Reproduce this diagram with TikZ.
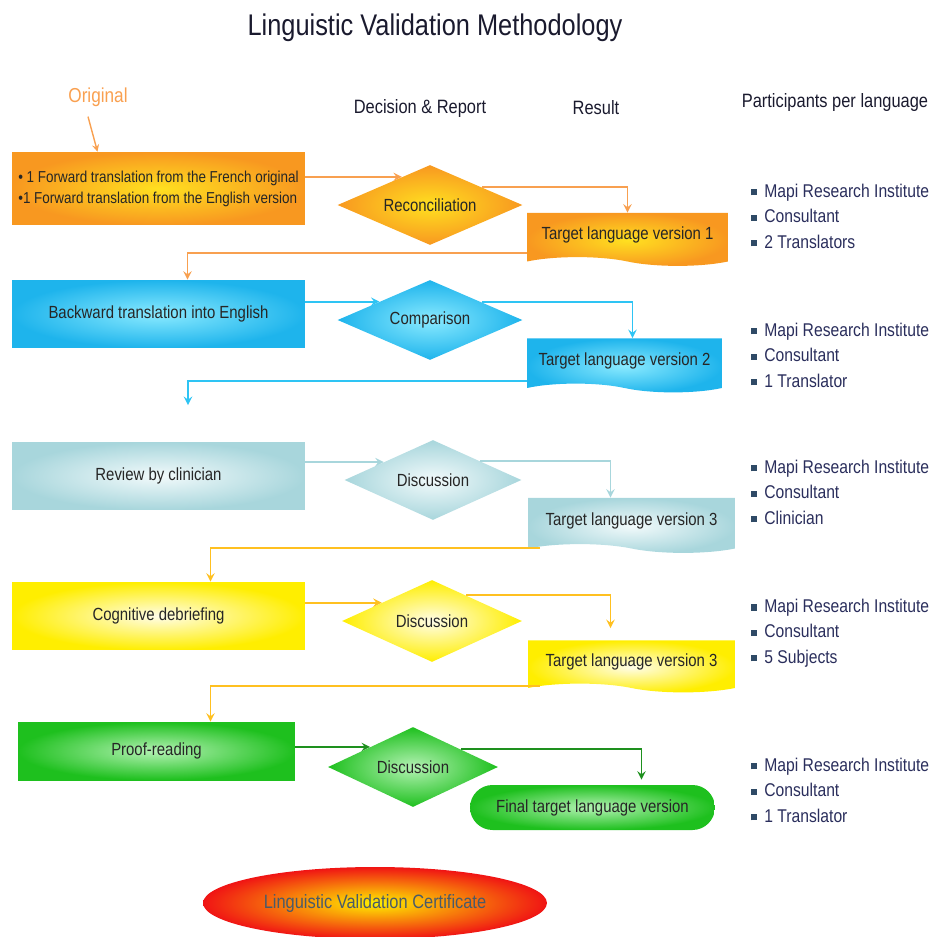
\documentclass[tikz,border=0pt]{standalone}
\usepackage{fontspec}
\setmainfont{Liberation Sans}[FakeStretch=0.85]
\usetikzlibrary{shapes.geometric,shapes.symbols,shapes.misc,calc}

\definecolor{titlec}{HTML}{1A1A2E}
\definecolor{origc}{HTML}{F9A050}
\definecolor{whoc}{HTML}{2A2E5C}
\definecolor{bulc}{HTML}{2F4A66}
\definecolor{or1}{HTML}{F89820}
\definecolor{or2}{HTML}{FFE020}
\definecolor{orl}{HTML}{F8A050}
\definecolor{cy1}{HTML}{1EB4EC}
\definecolor{cy2}{HTML}{8AEAFF}
\definecolor{cyl}{HTML}{2EC4F4}
\definecolor{te1}{HTML}{A8D6DC}
\definecolor{te2}{HTML}{F2FAFB}
\definecolor{tel}{HTML}{A8D6DC}
\definecolor{ye1}{HTML}{FFEE00}
\definecolor{ye2}{HTML}{FFFDE8}
\definecolor{yel}{HTML}{FFC020}
\definecolor{gr1}{HTML}{1EC01E}
\definecolor{gr2}{HTML}{B4F2B4}
\definecolor{grl}{HTML}{1E901E}
\definecolor{re1}{HTML}{F01414}
\definecolor{re2}{HTML}{FFF000}
\definecolor{certc}{HTML}{4A5A6A}

\newcommand{\sqb}{\textcolor{bulc}{\rule[1pt]{3.5pt}{3.5pt}}\hspace{4pt}}

\begin{document}
\begin{tikzpicture}[>=stealth,x=0.02cm,y=-0.02cm,
    stepbox/.style={rectangle,inner sep=0pt,minimum width=5.86cm,minimum height=1.36cm,
      text=black!85,font=\fontsize{10}{12}\selectfont},
    decide/.style={diamond,shape aspect=2.3,inner sep=0pt,minimum width=3.7cm,minimum height=1.6cm,
      text=black!85,font=\fontsize{10}{12}\selectfont},
    result/.style={tape,tape bend top=none,tape bend bottom=out and in,tape bend height=5pt,
      inner sep=0pt,minimum width=4.1cm,minimum height=1.08cm,
      text=black!85,font=\fontsize{10}{12}\selectfont},
    who/.style={anchor=west,align=left,text=whoc,font=\fontsize{10.5}{14.5}\selectfont},
    colhead/.style={text=titlec,font=\fontsize{11}{13}\selectfont},
    orng/.style={shading=radial,outer color=or1,inner color=or2},
    cyan/.style={shading=radial,outer color=cy1,inner color=cy2},
    teal/.style={shading=radial,outer color=te1,inner color=te2},
    yell/.style={shading=radial,outer color=ye1,inner color=ye2},
    gren/.style={shading=radial,outer color=gr1,inner color=gr2},
    link/.style={->,line width=1.1pt}]
  \useasboundingbox (0,0) rectangle (938,937);

  % headings
  \node[text=titlec,font=\fontsize{17}{20}\selectfont] (title) at (435,28) {Linguistic Validation Methodology};
  \node[text=origc,font=\fontsize{11.5}{13}\selectfont] (orig) at (98,97) {Original};
  \node[colhead] (hdec) at (420,108) {Decision \& Report};
  \node[colhead] (hres) at (596,108) {Result};
  \node[colhead] (hwho) at (835,103) {Participants per language};

  % forward translation
  \node[stepbox,orng,minimum height=1.46cm,align=left,font=\fontsize{9}{12}\selectfont] (box1) at (158.5,188.5)
    {• 1 Forward translation from the French original\\•1 Forward translation from the English version};
  \node[decide,orng] (recon) at (430,205) {Reconciliation};
  \node[result,orng,minimum width=4.02cm,minimum height=1.06cm] (tgt1) at (627.5,235) {Target language version 1};

  % backward translation
  \node[stepbox,cyan] (box2) at (158.5,314) {Backward translation into English};
  \node[decide,cyan] (comp) at (430,320) {Comparison};
  \node[result,cyan,minimum width=3.9cm] (tgt2) at (624.5,361) {Target language version 2};
  \coordinate (gap) at (188,405);

  % clinician
  \node[stepbox,teal] (box3) at (158.5,476) {Review by clinician};
  \node[decide,teal,minimum width=3.54cm] (disc1) at (433,480) {Discussion};
  \node[result,teal,minimum width=4.14cm,minimum height=1.1cm] (tgt3) at (631.5,521) {Target language version 3};

  % debriefing
  \node[stepbox,yell] (box4) at (158.5,616) {Cognitive debriefing};
  \node[decide,yell,minimum width=3.6cm,minimum height=1.64cm] (disc2) at (432,621) {Discussion};
  \node[result,yell,minimum width=4.14cm,minimum height=1.04cm] (tgt4) at (631.5,662) {Target language version 3};

  % proof-reading
  \node[stepbox,gren,minimum width=5.54cm,minimum height=1.16cm] (box5) at (156.5,751) {Proof-reading};
  \node[decide,gren,minimum width=3.4cm] (disc3) at (413,767) {Discussion};
  \node[rounded rectangle,gren,inner sep=0pt,minimum width=4.9cm,minimum height=0.9cm,
    text=black!85,font=\fontsize{10}{12}\selectfont] (final) at (592.5,807.5) {Final target language version};

  \node[ellipse,shading=radial,outer color=re1,inner color=re2,inner sep=0pt,minimum width=6.88cm,
    minimum height=1.44cm,text=certc,font=\fontsize{11}{13}\selectfont] (cert) at (375,903)
    {Linguistic Validation Certificate};

  % participants
  \node[who] (who1) at (745,216) {\sqb Mapi Research Institute\\\sqb Consultant\\\sqb 2 Translators};
  \node[who] (who2) at (745,355) {\sqb Mapi Research Institute\\\sqb Consultant\\\sqb 1 Translator};
  \node[who] (who3) at (745,492) {\sqb Mapi Research Institute\\\sqb Consultant\\\sqb Clinician};
  \node[who] (who4) at (745,633) {\sqb Mapi Research Institute\\\sqb Consultant\\\sqb 5 Subjects};
  \node[who] (who5) at (745,790) {\sqb Mapi Research Institute\\\sqb Consultant\\\sqb 1 Translator};

  % connectors
  \draw[link,orl,line width=0.8pt] ($(orig.south)+(-10,4)$) -- ($(box1.north)+(-61,0)$);
  \draw[link,orl] (box1.east |- recon.135) -- (recon.135);
  \draw[link,orl] (recon.19) -| (tgt1.north);
  \draw[link,orl] ($(tgt1.west)+(0,18)$) -| ($(box2.north)+(29,0)$);

  \draw[link,cyl] (box2.east |- comp.160) -- (comp.160);
  \draw[link,cyl] (comp.19) -| ($(tgt2.north)+(8,0)$);
  \draw[link,cyl] ($(tgt2.west)+(0,20)$) -| (gap);

  \draw[link,tel] (box3.east |- disc1.160) -- (disc1.160);
  \draw[link,tel] (disc1.22) -| ($(tgt3.north)+(-21,0)$);
  \draw[link,yel] ($(tgt3.south west)+(12,4)$) -| ($(box4.north)+(52,0)$);

  \draw[link,yel] (box4.east |- disc2.160) -- (disc2.160);
  \draw[link,yel] (disc2.37) -| ($(tgt4.north)+(-21,-12)$);
  \draw[link,yel] ($(tgt4.south west)+(12,2)$) -| ($(box5.north)+(54,0)$);

  \draw[link,grl] (box5.east |- disc3.155) -- (disc3.155);
  \draw[link,grl] (disc3.20) -| ($(final.north)+(49,-5)$);
\end{tikzpicture}
\end{document}
